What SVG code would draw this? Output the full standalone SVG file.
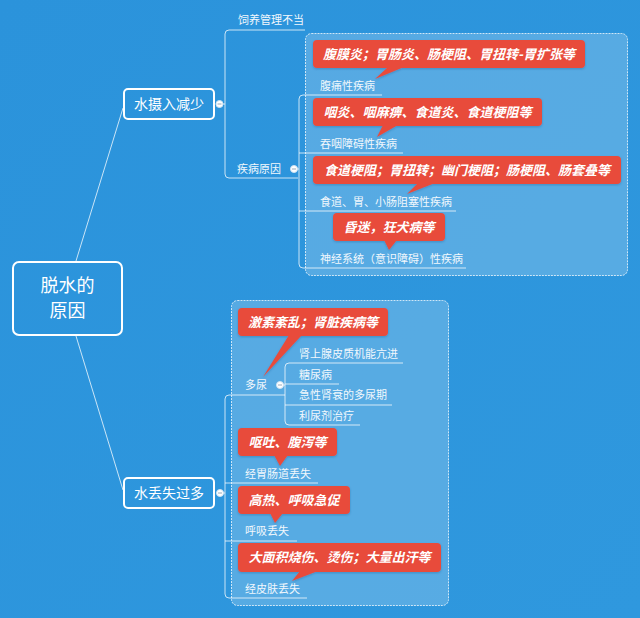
<svg xmlns="http://www.w3.org/2000/svg" width="640" height="618" viewBox="0 0 640 618">
<defs>
<linearGradient id="bg" x1="0" y1="0" x2="1" y2="1">
<stop offset="0" stop-color="#2B93DB"/>
<stop offset="1" stop-color="#2F98DE"/>
</linearGradient>
<filter id="sh" x="-10%" y="-20%" width="120%" height="150%">
<feDropShadow dx="0" dy="1" stdDeviation="0.8" flood-color="#1a4f80" flood-opacity="0.35"/>
</filter>
</defs>
<style>
.t{font-family:"Noto Sans CJK SC","Liberation Sans",sans-serif;fill:#fff}
.s{font-size:11px;fill:#f2f8fd}
.m{font-size:14px}
.r{font-size:18px}
.c{font-size:13px;font-weight:bold;font-style:italic;text-anchor:middle}
.ln{fill:none;stroke:#fff;stroke-opacity:0.75;stroke-width:1}
.box{fill:#fff;fill-opacity:0.2;stroke:#fff;stroke-opacity:0.75;stroke-width:1;stroke-dasharray:2 1}
.node{fill:none;stroke:#fff;stroke-width:2}
.call{fill:#E84C3B}
.dot{fill:#fff;stroke:#cfe3f3;stroke-width:1}
.dash{stroke:#9ab;stroke-width:1}
</style>
<rect width="640" height="618" fill="url(#bg)"/>

<g id="boxes">
<rect class="box" x="305.5" y="33.5" width="322" height="242" rx="6"/>
<rect class="box" x="231.5" y="300.5" width="217" height="305" rx="6"/>
</g>

<g id="connectors">
<path class="ln" d="M76 261 L123 108"/>
<path class="ln" d="M76 336 L123 490"/>
<path class="ln" d="M220 104 H225 M305 30 H229 Q225 30 225 34 V174 Q225 178 229 178 H298"/>
<path class="ln" d="M294 169 H299 M382 95 H303 Q299 95 299 99 V264 Q299 268 303 268 H466 M299 153 H403 M299 211 H456"/>
<path class="ln" d="M220 493 H225 M285 395 H229 Q225 395 225 399 V594 Q225 598 229 598 H307 M225 483 H318 M225 541 H297"/>
<path class="ln" d="M280 385 H285 M403 363 H289 Q285 363 285 367 V421 Q285 425 289 425 H360 M285 384 H339 M285 405 H392"/>
</g>

<g id="root">
<rect class="node" x="13" y="262" width="109" height="73" rx="6"/>
<text class="t r" x="67.5" y="292" text-anchor="middle">脱水的</text>
<text class="t r" x="67.5" y="317" text-anchor="middle">原因</text>
</g>

<g id="n-intake">
<rect class="node" x="124" y="89" width="90" height="30" rx="4"/>
<text class="t m" x="169" y="109" text-anchor="middle">水摄入减少</text>
<circle class="dot" cx="219.5" cy="104" r="3.5"/>
<path class="dash" d="M217.5 104 H221.5"/>
</g>

<g id="n-feed"><text class="t s" x="238" y="24">饲养管理不当</text></g>

<g id="n-disease">
<text class="t s" x="237" y="173">疾病原因</text>
<circle class="dot" cx="294" cy="169" r="3.5"/>
<path class="dash" d="M292 169 H296"/>
</g>

<g id="n-abd">
<text class="t s" x="320" y="90">腹痛性疾病</text>
<g filter="url(#sh)"><rect class="call" x="313" y="40" width="272" height="28" rx="4"/><polygon class="call" points="388,67 404,67 375,79"/></g>
<text class="t c" x="449" y="59">腹膜炎；胃肠炎、肠梗阻、胃扭转-胃扩张等</text>
</g>

<g id="n-swallow">
<text class="t s" x="320" y="148">吞咽障碍性疾病</text>
<g filter="url(#sh)"><rect class="call" x="313" y="98" width="229" height="28" rx="4"/><polygon class="call" points="383,125 398,125 377,137"/></g>
<text class="t c" x="427.5" y="117">咽炎、咽麻痹、食道炎、食道梗阻等</text>
</g>

<g id="n-obst">
<text class="t s" x="320" y="206">食道、胃、小肠阻塞性疾病</text>
<g filter="url(#sh)"><rect class="call" x="313" y="156" width="308" height="28" rx="4"/><polygon class="call" points="418,183 435,183 407,194"/></g>
<text class="t c" x="467" y="175">食道梗阻；胃扭转；幽门梗阻；肠梗阻、肠套叠等</text>
</g>

<g id="n-neuro">
<text class="t s" x="320" y="263">神经系统（意识障碍）性疾病</text>
<g filter="url(#sh)"><rect class="call" x="333" y="213" width="112" height="28" rx="4"/><polygon class="call" points="384,240 397,240 389,250"/></g>
<text class="t c" x="389" y="232">昏迷，狂犬病等</text>
</g>

<g id="n-loss">
<rect class="node" x="124" y="478" width="90" height="30" rx="4"/>
<text class="t m" x="169" y="498" text-anchor="middle">水丢失过多</text>
<circle class="dot" cx="220" cy="493" r="3.5"/>
<path class="dash" d="M218 493 H222"/>
</g>

<g id="n-poly">
<text class="t s" x="245" y="389">多尿</text>
<circle class="dot" cx="280" cy="385" r="3.5"/>
<path class="dash" d="M278 385 H282"/>
<g filter="url(#sh)"><rect class="call" x="238" y="308" width="150" height="28" rx="4"/><polygon class="call" points="289,335 302,335 263,377"/></g>
<text class="t c" x="313" y="327">激素紊乱；肾脏疾病等</text>
</g>

<g id="n-adrenal"><text class="t s" x="299" y="358">肾上腺皮质机能亢进</text></g>
<g id="n-diab"><text class="t s" x="299" y="379">糖尿病</text></g>
<g id="n-arf"><text class="t s" x="299" y="399">急性肾衰的多尿期</text></g>
<g id="n-diur"><text class="t s" x="299" y="420">利尿剂治疗</text></g>

<g id="n-gi">
<text class="t s" x="245" y="478">经胃肠道丢失</text>
<g filter="url(#sh)"><rect class="call" x="238" y="428" width="99" height="28" rx="4"/><polygon class="call" points="274,455 288,455 280,466"/></g>
<text class="t c" x="287.5" y="447">呕吐、腹泻等</text>
</g>

<g id="n-resp">
<text class="t s" x="245" y="535">呼吸丢失</text>
<g filter="url(#sh)"><rect class="call" x="238" y="486" width="112" height="28" rx="4"/><polygon class="call" points="270,513 283,513 275,523"/></g>
<text class="t c" x="294" y="505">高热、呼吸急促</text>
</g>

<g id="n-skin">
<text class="t s" x="245" y="593">经皮肤丢失</text>
<g filter="url(#sh)"><rect class="call" x="238" y="543" width="203" height="29" rx="4"/><polygon class="call" points="300,571 318,571 292,581"/></g>
<text class="t c" x="339.5" y="562">大面积烧伤、烫伤；大量出汗等</text>
</g>
</svg>
